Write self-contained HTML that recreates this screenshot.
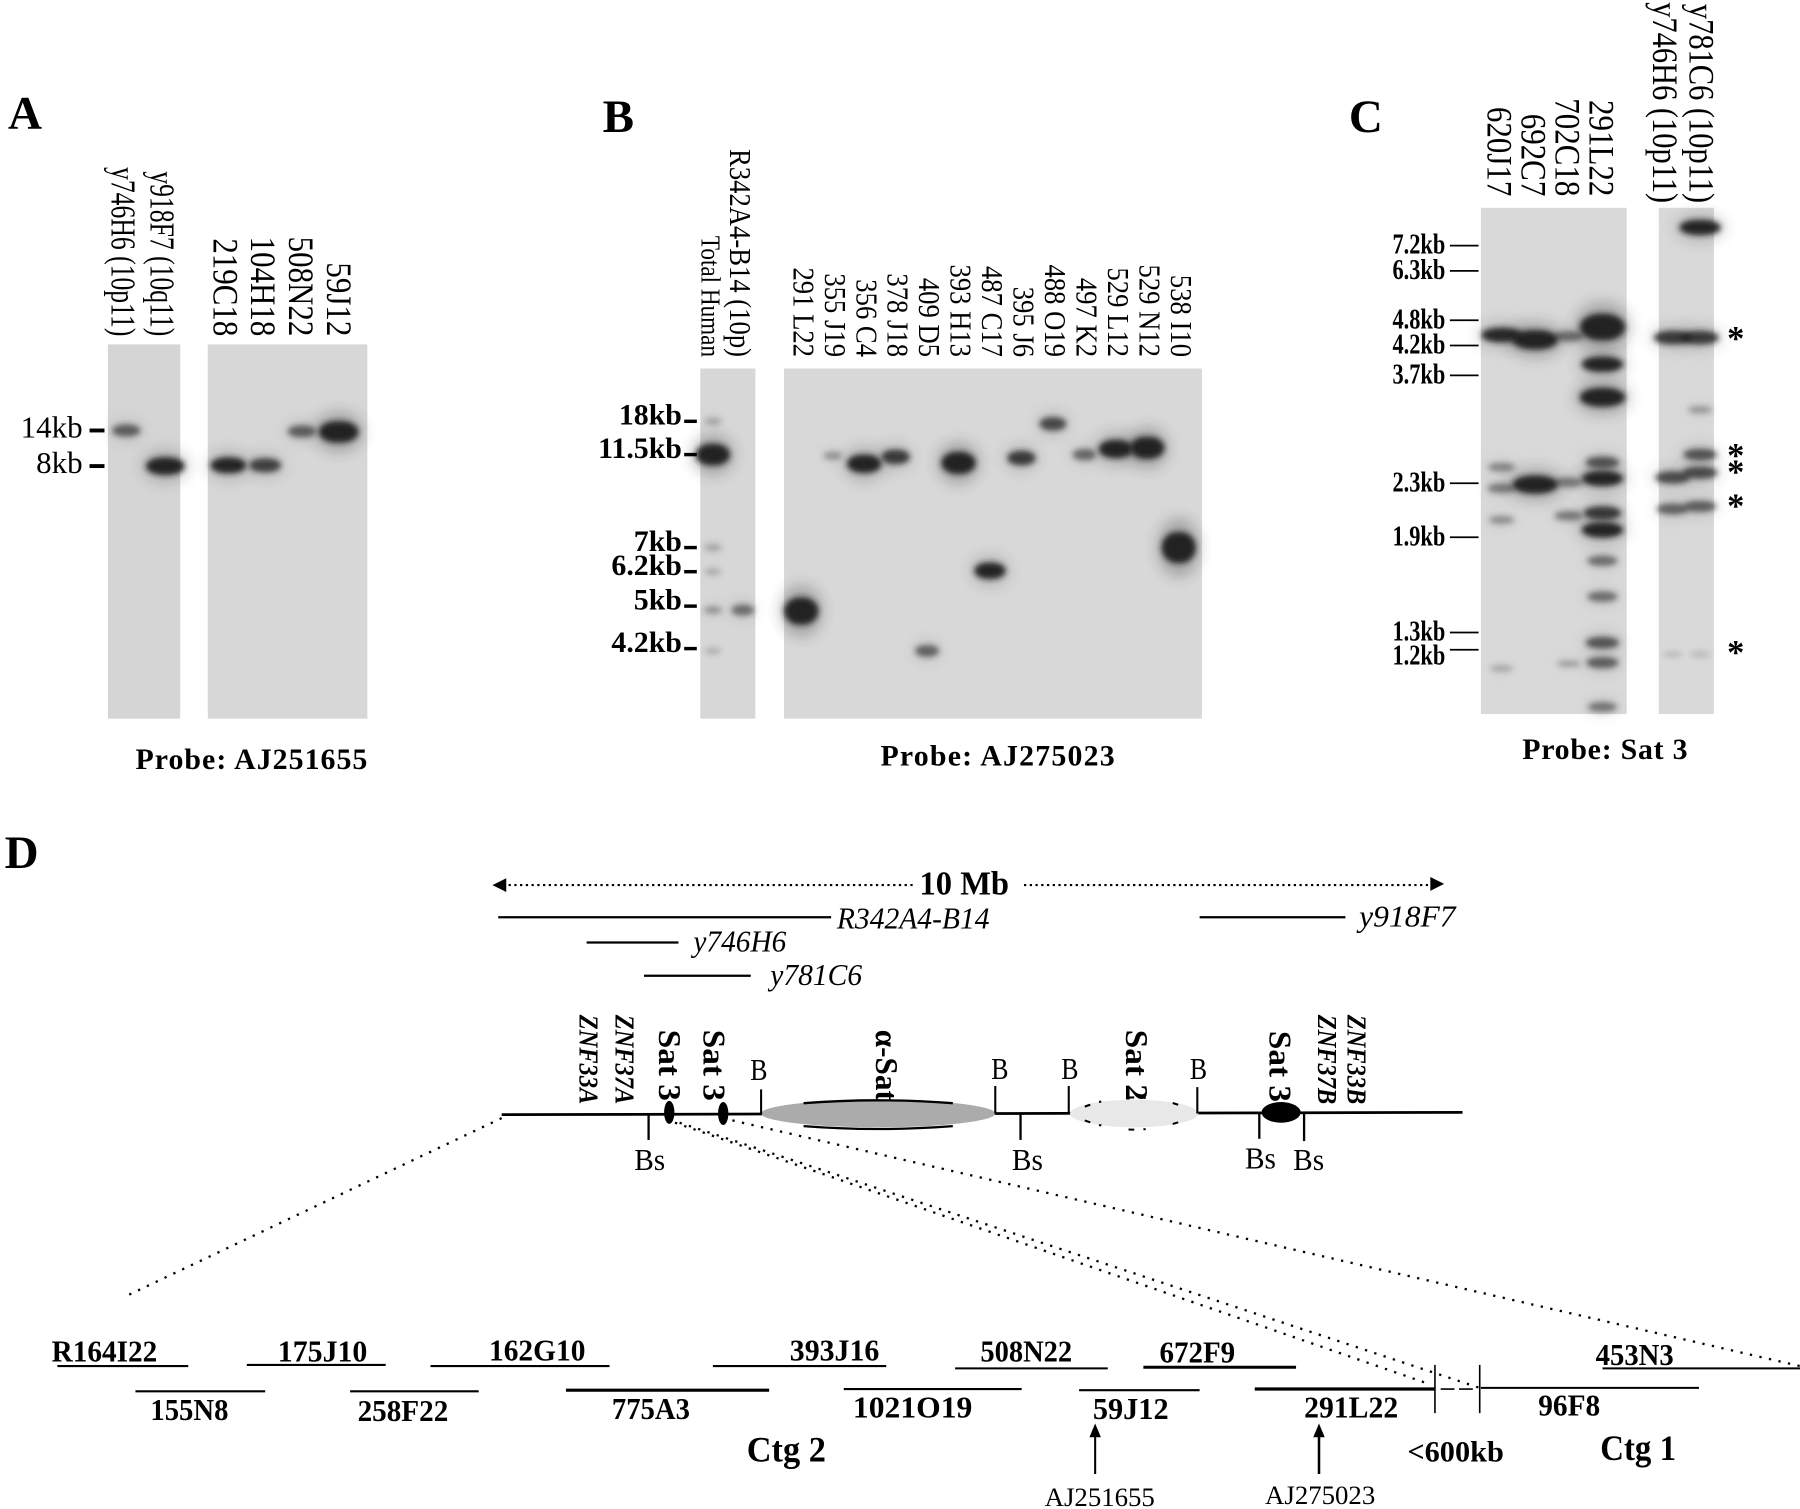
<!DOCTYPE html>
<html lang="en">
<head>
<meta charset="utf-8">
<title>Southern blots and physical map</title>
<style>
html,body{margin:0;padding:0;background:#fff;}
svg{display:block;font-family:"Liberation Serif",serif;}
.it{font-style:italic;}
.b{font-weight:bold;}
</style>
</head>
<body>
<svg id="figure" xmlns="http://www.w3.org/2000/svg" width="1800" height="1509" viewBox="0 0 1568 1314.5">
  <defs>
    <filter id="bandBlur" x="-50%" y="-100%" width="200%" height="300%"><feGaussianBlur stdDeviation="2.6"/></filter>
    <filter id="haloBlur" x="-80%" y="-200%" width="260%" height="500%"><feGaussianBlur stdDeviation="6"/></filter>
  </defs>
  <rect width="1568" height="1314.5" fill="#fff"/>

  <text class="b" x="7" y="112" font-size="41">A</text>
  <text class="b" x="525" y="115" font-size="41">B</text>
  <text class="b" x="1175" y="115" font-size="41">C</text>
  <text class="b" x="4" y="756" font-size="41">D</text>

  <g id="panelA"></g>
  <g id="panelB"></g>
  <g id="panelC"></g>

  <text class="b" x="118" y="670" font-size="26" textLength="202">Probe: AJ251655</text>
  <text class="b" x="767" y="667" font-size="26" textLength="204">Probe: AJ275023</text>
  <text class="b" x="1326" y="661" font-size="26" textLength="144">Probe: Sat 3</text>

  <g id="panelD" fill="#000">
    <g>
      <line x1="438" y1="771" x2="797" y2="771" stroke="#000" stroke-width="1.8" stroke-dasharray="2 3"/>
      <line x1="892" y1="771" x2="1250" y2="771" stroke="#000" stroke-width="1.8" stroke-dasharray="2 3"/>
      <polygon points="429,771 441,765 441,777"/>
      <polygon points="1258,770 1246,764 1246,776"/>
      <text class="b" x="840" y="779" font-size="29" text-anchor="middle" textLength="78" lengthAdjust="spacingAndGlyphs">10 Mb</text>
    </g>
    <g stroke="#000" stroke-width="2">
      <line x1="434" y1="799" x2="724" y2="799"/>
      <line x1="1045" y1="799" x2="1172" y2="799"/>
      <line x1="511" y1="821" x2="591" y2="821"/>
      <line x1="561" y1="850" x2="654" y2="850"/>
    </g>
    <g class="it" font-size="27">
      <text x="729" y="809" textLength="133" lengthAdjust="spacingAndGlyphs">R342A4-B14</text>
      <text x="1184" y="807" textLength="84" lengthAdjust="spacingAndGlyphs">y918F7</text>
      <text x="604" y="829" textLength="81" lengthAdjust="spacingAndGlyphs">y746H6</text>
      <text x="671" y="858" textLength="80" lengthAdjust="spacingAndGlyphs">y781C6</text>
    </g>

    <g stroke="#000" stroke-width="2" stroke-dasharray="2 6.5" fill="none">
      <line x1="437" y1="974" x2="112" y2="1128"/>
      <line x1="588" y1="978" x2="1246" y2="1206"/>
      <line x1="592" y1="978" x2="1289" y2="1209"/>
      <line x1="638" y1="976" x2="1568" y2="1190"/>
    </g>

    <line x1="437" y1="971" x2="1274" y2="969" stroke="#000" stroke-width="2.4"/>
    <g>
      <ellipse cx="765" cy="970" rx="102" ry="12" fill="#ababab"/>
      <path d="M700 961 Q765 956 830 961 M700 981 Q765 986 830 981" stroke="#000" stroke-width="2" fill="none"/>
    </g>
    <g>
      <ellipse cx="988" cy="970" rx="56" ry="12" fill="#e8e8e8"/>
      <path d="M945 964 Q988 948 1031 964 M945 976 Q988 992 1031 976" stroke="#000" stroke-width="1.8" stroke-dasharray="5 8 2 24" fill="none"/>
    </g>
    <ellipse cx="1116" cy="969" rx="17" ry="9" fill="#000"/>
    <ellipse cx="583" cy="969" rx="4.5" ry="10" fill="#000"/>
    <ellipse cx="630" cy="970" rx="4.5" ry="10" fill="#000"/>

    <g stroke="#000" stroke-width="1.8">
      <line x1="663" y1="949" x2="663" y2="971"/>
      <line x1="867" y1="946" x2="867" y2="970"/>
      <line x1="931" y1="946" x2="931" y2="970"/>
      <line x1="1043" y1="947" x2="1043" y2="970"/>
    </g>
    <g stroke="#000" stroke-width="2">
      <line x1="565" y1="970" x2="565" y2="993"/>
      <line x1="889" y1="970" x2="889" y2="993"/>
      <line x1="1097" y1="969" x2="1097" y2="992"/>
      <line x1="1136" y1="969" x2="1136" y2="994"/>
    </g>
    <g font-size="27" text-anchor="middle">
      <text x="661" y="941" textLength="15" lengthAdjust="spacingAndGlyphs">B</text>
      <text x="871" y="940" textLength="15" lengthAdjust="spacingAndGlyphs">B</text>
      <text x="932" y="940" textLength="15" lengthAdjust="spacingAndGlyphs">B</text>
      <text x="1044" y="940" textLength="15" lengthAdjust="spacingAndGlyphs">B</text>
      <text x="566" y="1019" textLength="27" lengthAdjust="spacingAndGlyphs">Bs</text>
      <text x="895" y="1019" textLength="27" lengthAdjust="spacingAndGlyphs">Bs</text>
      <text x="1098" y="1018" textLength="27" lengthAdjust="spacingAndGlyphs">Bs</text>
      <text x="1140" y="1019" textLength="27" lengthAdjust="spacingAndGlyphs">Bs</text>
    </g>
    <g font-size="28" class="b">
      <text class="it b" font-size="24" transform="translate(505,884) rotate(90)" textLength="78" lengthAdjust="spacingAndGlyphs">ZNF33A</text>
      <text class="it b" font-size="24" transform="translate(536,884) rotate(90)" textLength="78" lengthAdjust="spacingAndGlyphs">ZNF37A</text>
      <text transform="translate(574,897) rotate(90)" textLength="62" lengthAdjust="spacingAndGlyphs">Sat 3</text>
      <text transform="translate(613,897) rotate(90)" textLength="62" lengthAdjust="spacingAndGlyphs">Sat 3</text>
      <text transform="translate(763,897) rotate(90)" textLength="62" lengthAdjust="spacingAndGlyphs">α-Sat</text>
      <text transform="translate(981,897) rotate(90)" textLength="62" lengthAdjust="spacingAndGlyphs">Sat 2</text>
      <text transform="translate(1106,898) rotate(90)" textLength="62" lengthAdjust="spacingAndGlyphs">Sat 3</text>
      <text class="it b" font-size="24" transform="translate(1148,884) rotate(90)" textLength="78" lengthAdjust="spacingAndGlyphs">ZNF37B</text>
      <text class="it b" font-size="24" transform="translate(1174,884) rotate(90)" textLength="78" lengthAdjust="spacingAndGlyphs">ZNF33B</text>
    </g>

    <g stroke="#000" stroke-width="1.8">
      <line x1="50" y1="1190" x2="164" y2="1190"/>
      <line x1="215" y1="1189" x2="336" y2="1189"/>
      <line x1="375" y1="1190" x2="531" y2="1190"/>
      <line x1="621" y1="1190" x2="772" y2="1190"/>
      <line x1="832" y1="1192" x2="965" y2="1192"/>
      <line x1="996" y1="1191" x2="1129" y2="1191" stroke-width="2.6"/>
      <line x1="1396" y1="1192" x2="1568" y2="1192"/>
    </g>
    <g stroke="#000" stroke-width="1.8">
      <line x1="118" y1="1212" x2="231" y2="1212"/>
      <line x1="305" y1="1212" x2="417" y2="1212"/>
      <line x1="493" y1="1211" x2="670" y2="1211" stroke-width="2.8"/>
      <line x1="735" y1="1210" x2="890" y2="1210"/>
      <line x1="940" y1="1211" x2="1045" y2="1211"/>
      <line x1="1093" y1="1210" x2="1250" y2="1210" stroke-width="2.8"/>
      <line x1="1290" y1="1209" x2="1480" y2="1209"/>
    </g>
    <g stroke="#000" stroke-width="1.4">
      <line x1="1250" y1="1189" x2="1250" y2="1231"/>
      <line x1="1289" y1="1189" x2="1289" y2="1231"/>
      <line x1="1255" y1="1210" x2="1284" y2="1210" stroke-dasharray="12 4"/>
    </g>
    <g class="b" font-size="27" text-anchor="middle">
      <text x="91" y="1186" textLength="92" lengthAdjust="spacingAndGlyphs">R164I22</text>
      <text x="281" y="1186" textLength="78" lengthAdjust="spacingAndGlyphs">175J10</text>
      <text x="468" y="1185" textLength="84" lengthAdjust="spacingAndGlyphs">162G10</text>
      <text x="727" y="1185" textLength="78" lengthAdjust="spacingAndGlyphs">393J16</text>
      <text x="894" y="1186" textLength="80" lengthAdjust="spacingAndGlyphs">508N22</text>
      <text x="1043" y="1187" textLength="66" lengthAdjust="spacingAndGlyphs">672F9</text>
      <text x="1424" y="1189" textLength="68" lengthAdjust="spacingAndGlyphs">453N3</text>
      <text x="165" y="1237" textLength="68" lengthAdjust="spacingAndGlyphs">155N8</text>
      <text x="351" y="1238" textLength="79" lengthAdjust="spacingAndGlyphs">258F22</text>
      <text x="567" y="1236" textLength="68" lengthAdjust="spacingAndGlyphs">775A3</text>
      <text x="795" y="1235" textLength="104" lengthAdjust="spacingAndGlyphs">1021O19</text>
      <text x="985" y="1236" textLength="66" lengthAdjust="spacingAndGlyphs">59J12</text>
      <text x="1177" y="1235" textLength="82" lengthAdjust="spacingAndGlyphs">291L22</text>
      <text x="1367" y="1233" textLength="54" lengthAdjust="spacingAndGlyphs">96F8</text>
      <text x="1268" y="1273" font-size="26" textLength="84" lengthAdjust="spacingAndGlyphs">&lt;600kb</text>
      <text x="685" y="1273" font-size="31" textLength="69" lengthAdjust="spacingAndGlyphs">Ctg 2</text>
      <text x="1427" y="1272" font-size="31" textLength="66" lengthAdjust="spacingAndGlyphs">Ctg 1</text>
    </g>
    <g>
      <line x1="954" y1="1284" x2="954" y2="1250" stroke="#000" stroke-width="1.8"/>
      <polygon points="954,1240 949,1252 959,1252"/>
      <line x1="1149" y1="1284" x2="1149" y2="1250" stroke="#000" stroke-width="2.2"/>
      <polygon points="1149,1240 1144,1252 1154,1252"/>
    </g>
    <text x="958" y="1312" font-size="23" text-anchor="middle" textLength="96" lengthAdjust="spacingAndGlyphs">AJ251655</text>
    <text x="1150" y="1310" font-size="23" text-anchor="middle" textLength="96" lengthAdjust="spacingAndGlyphs">AJ275023</text>
  </g>

<script>
// ---------- Panel A data ----------
const aLaneLabels = ["y746H6 (10p11)", "y918F7 (10q11)", "219C18", "104H18", "508N22", "59J12"];
const aTickKb = [14, 8];
const aTickLabels = ["14kb", "8kb"];
const aBandLane = [0, 1, 2, 3, 4, 5];
const aBandKb = [14, 8.0, 8.1, 8.1, 13.8, 13.7];
const aBandSignal = [0.5, 0.95, 0.82, 0.66, 0.5, 1.25];

// ---------- Panel B data ----------
const bLaneLabels = ["Total Human", "R342A4-B14 (10p)", "291 L22", "355 J19", "356 C4", "378 J18", "409 D5", "393 H13", "487 C17", "395 J6", "488 O19", "497 K2", "529 L12", "529 N12", "538 I10"];
const bTickKb = [18, 11.5, 7, 6.2, 5, 4.2];
const bTickLabels = ["18kb", "11.5kb", "7kb", "6.2kb", "5kb", "4.2kb"];
const bBandLane = [0, 0, 0, 0, 0, 0, 1, 2, 3, 4, 5, 6, 7, 8, 9, 10, 11, 12, 13, 14];
const bBandKb = [18, 11.5, 7, 6.2, 4.92, 4.16, 4.92, 4.9, 11.43, 10.95, 11.36, 4.16, 11.0, 6.23, 11.29, 17.4, 11.5, 12.4, 12.6, 7.0];
const bBandSignal = [0.14, 1.25, 0.14, 0.1, 0.2, 0.08, 0.42, 1.7, 0.22, 1.0, 0.7, 0.48, 1.3, 0.85, 0.7, 0.62, 0.45, 1.0, 1.3, 2.0];

// ---------- Panel C data ----------
const cLaneLabels = ["620J17", "692C7", "702C18", "291L22", "y746H6 (10p11)", "y781C6 (10p11)"];
const cTickKb = [7.2, 6.3, 4.8, 4.2, 3.7, 2.3, 1.9, 1.3, 1.2];
const cTickLabels = ["7.2kb", "6.3kb", "4.8kb", "4.2kb", "3.7kb", "2.3kb", "1.9kb", "1.3kb", "1.2kb"];
const cBandLane = [0, 0, 0, 0, 0, 1, 1, 2, 2, 2, 2, 3, 3, 3, 3, 3, 3, 3, 3, 3, 3, 3, 3, 4, 4, 4, 4, 5, 5, 5, 5, 5, 5, 5];
const cBandKb = [4.44, 2.47, 2.26, 2.02, 1.10, 4.33, 2.29, 4.41, 2.31, 2.05, 1.125, 4.63, 3.88, 3.36, 2.52, 2.35, 2.07, 1.95, 1.73, 1.50, 1.24, 1.13, 0.92, 4.38, 2.36, 2.10, 1.175, 7.93, 4.38, 3.18, 2.61, 2.41, 2.12, 1.175];
const cBandSignal = [0.8, 0.3, 0.35, 0.25, 0.13, 1.2, 1.1, 0.42, 0.36, 0.36, 0.16, 1.8, 0.85, 1.15, 0.55, 0.85, 0.7, 0.85, 0.42, 0.42, 0.55, 0.5, 0.38, 0.7, 0.6, 0.48, 0.04, 0.85, 0.7, 0.2, 0.55, 0.6, 0.5, 0.05];
const cStarKb = [4.38, 2.61, 2.43, 2.13, 1.19];

// ---------- Shared drawing ----------
const NS = "http://www.w3.org/2000/svg";
function node(parent, tag, attrs, content) {
  const el = document.createElementNS(NS, tag);
  for (const k in attrs) el.setAttribute(k, attrs[k]);
  if (content !== undefined) el.textContent = content;
  parent.appendChild(el);
  return el;
}
// Piecewise log-kb migration axis (a gel is not a straight log scale).
function migrationAxis(calibration) {
  return function (kb) {
    const v = Math.log(kb);
    let i = 0;
    while (i < calibration.length - 2 && v < Math.log(calibration[i + 1][0])) i++;
    const a = calibration[i], b = calibration[i + 1];
    const t = (v - Math.log(a[0])) / (Math.log(b[0]) - Math.log(a[0]));
    return a[1] + t * (b[1] - a[1]);
  };
}
function drawGel(parent, x0, x1, y0, y1, shade) {
  const el = node(parent, "rect", { x: x0, y: y0, width: x1 - x0, height: y1 - y0, fill: shade });
  
  
}
function drawBands(parent, lanes, kbs, signals, laneX, kbY, widthBase, heightBase) {
  lanes.forEach(function (lane, i) {
    const v = signals[i];
    const w = widthBase * (0.5 + 0.7 * Math.min(v, 1));
    const h = heightBase * (0.3 + 0.7 * v);
    const cx = laneX(lane), cy = kbY(kbs[i]);
    const halo = node(parent, "ellipse", { cx: cx, cy: cy, rx: w * 0.62, ry: h * 0.95, fill: "#222", opacity: Math.min(0.28, 0.22 * v), filter: "url(#haloBlur)" });
    
    
    const el = node(parent, "rect", {
      x: cx - w / 2, y: cy - h / 2, width: w, height: h, rx: w * 0.45, ry: h / 2,
      fill: "#1e1e1e", opacity: Math.min(0.95, 0.12 + 1.0 * v), filter: "url(#bandBlur)"
    });
    
    
  });
}
function drawLaneLabels(parent, labels, labelX, bottomY, fontSizeOf, squeezeOf) {
  labels.forEach(function (label, i) {
    const fs = fontSizeOf(i), x = labelX(i), y = bottomY(i);
    const attrs = { transform: "translate(" + (x - fs * 0.33) + "," + y + ") rotate(90) scale(" + squeezeOf(i) + ",1)", "font-size": fs, "text-anchor": "end" };
    const el = node(parent, "text", attrs, label);
    
    
  });
}
function drawTicks(parent, kbs, labels, kbY, o) {
  let lastLabelY = -Infinity;
  kbs.forEach(function (kb, i) {
    const y = kbY(kb);
    const tick = node(parent, "line", { x1: o.tickX0, x2: o.tickX1, y1: y, y2: y, stroke: "#000", "stroke-width": o.tickWidth });
    
    
    const labelY = Math.max(y + o.labelDy, lastLabelY + 21);
    lastLabelY = labelY;
    const attrs = { x: o.labelRight, y: labelY, "font-size": o.fontSize, "text-anchor": "end", "font-weight": o.weight };
    if (o.charWidth) { attrs.textLength = labels[i].length * o.charWidth; attrs.lengthAdjust = "spacingAndGlyphs"; }
    const el = node(parent, "text", attrs, labels[i]);
    
    
  });
}

// ---------- Panel A ----------
(function () {
  const g = document.getElementById("panelA");
  const y = migrationAxis([[14, 375], [8, 406]]);
  const x = function (i) { return i < 2 ? 110 + 34 * i : 199 + 32 * (i - 2); };
  drawGel(g, 94, 157, 300, 626, "#d5d5d5");
  drawGel(g, 181, 320, 300, 626, "#d7d7d7");
  const bands = document.createElementNS(NS, "svg");
  drawBands(g, aBandLane, aBandKb, aBandSignal, x, y, 29, 16);
  drawLaneLabels(g, aLaneLabels,
    function (i) { return i < 2 ? 107 + 34 * i : 196 + 33 * (i - 2); },
    function (i) { return 293; },
    function (i) { return i < 2 ? 30 : 31; },
    function (i) { return i < 2 ? 0.745 : 0.87; });
  drawTicks(g, aTickKb, aTickLabels, y, { tickX0: 78, tickX1: 91, tickWidth: 3.4, labelRight: 72, labelDy: 6, fontSize: 27, weight: "normal" });
})();

// ---------- Panel B ----------
(function () {
  const g = document.getElementById("panelB");
  const y = migrationAxis([[18, 367], [11.5, 396], [7, 477], [6.2, 498], [5, 528], [4.2, 565]]);
  const x = function (i) { return i < 2 ? 621 + 26 * i : 698 + 27.4 * (i - 2); };
  drawGel(g, 610, 658, 321, 626, "#d7d7d7");
  drawGel(g, 683, 1047, 321, 626, "#d8d8d8");
  drawBands(g, bBandLane, bBandKb, bBandSignal, x, y, 25, 16);
  drawLaneLabels(g, bLaneLabels,
    function (i) { return i < 2 ? 619 + 26 * i : 700 + 27.4 * (i - 2); },
    function (i) { return 311; },
    function (i) { return i === 0 ? 24 : 27; },
    function (i) { return i === 0 ? 0.84 : 0.86; });
  drawTicks(g, bTickKb, bTickLabels, y, { tickX0: 596, tickX1: 607, tickWidth: 3, labelRight: 594, labelDy: 3, fontSize: 26, weight: "bold" });
})();

// ---------- Panel C ----------
(function () {
  const g = document.getElementById("panelC");
  const y = migrationAxis([[7.2, 214], [6.3, 236], [4.8, 279], [4.2, 301], [3.7, 327], [2.3, 421], [1.9, 468], [1.3, 551], [1.2, 566]]);
  const x = function (i) { return i < 4 ? 1308 + 29.3 * i : 1457 + 24 * (i - 4); };
  drawGel(g, 1290, 1417, 181, 622, "#d9d9d9");
  drawGel(g, 1445, 1493, 181, 622, "#d9d9d9");
  drawBands(g, cBandLane, cBandKb, cBandSignal, x, y, 33, 15);
  drawLaneLabels(g, cLaneLabels,
    function (i) { return i < 4 ? 1306 + 29.6 * i : 1450 + 32 * (i - 4); },
    function (i) { return i < 4 ? 171 : 177; },
    function (i) { return 31; },
    function (i) { return i < 4 ? 0.87 : 0.856; });
  drawTicks(g, cTickKb, cTickLabels, y, { tickX0: 1263, tickX1: 1288, tickWidth: 1.5, labelRight: 1259, labelDy: 7, fontSize: 25, weight: "bold", charWidth: 9.2 });
  cStarKb.forEach(function (kb) {
    const el = node(g, "text", { x: 1512, y: y(kb) + 11, "font-size": 30, "font-weight": "bold", "text-anchor": "middle" }, "*");
    
    
  });
})();
</script>
</svg>
</body>
</html>
